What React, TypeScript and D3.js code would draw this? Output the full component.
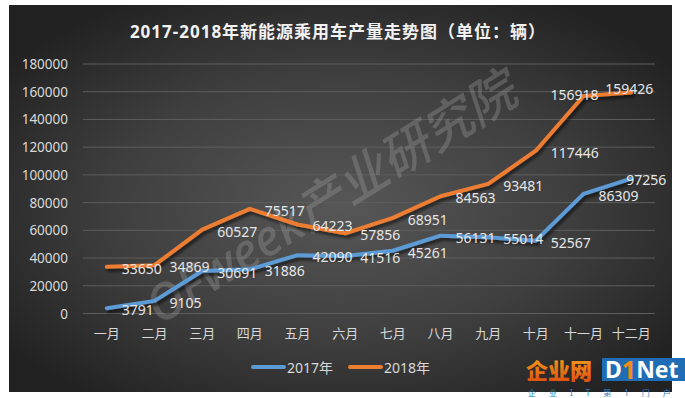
import * as d3 from "d3";

const W = 685;
const H = 398;

// data
const months = ["一月", "二月", "三月", "四月", "五月", "六月", "七月", "八月", "九月", "十月", "十一月", "十二月"];
const sales2017 = [3791, 9105, 30691, 31886, 42090, 41516, 45261, 56131, 55014, 52567, 86309, 97256];
const sales2018 = [33650, 34869, 60527, 75517, 64223, 57856, 68951, 84563, 93481, 117446, 156918, 159426];
const yTicks = [0, 20000, 40000, 60000, 80000, 100000, 120000, 140000, 160000, 180000];

const series = [
    { name: "2017年", values: sales2017, color: "#5B9BD5" },
    { name: "2018年", values: sales2018, color: "#ED7D31" },
];

// labels that were dragged away from the default "right" spot
const labelNudge = {
    "2017年-11": { anchor: "start", dx: -5, dy: 1 },
    "2018年-10": { anchor: "middle", dx: -9, dy: -1 },
    "2018年-11": { anchor: "middle", dx: -2, dy: -4 },
};

const fontFamily = "'Noto Sans', 'Noto Sans CJK SC', sans-serif";
const textColor = "#d9d9d9";

const App = () => {
    const xScale = d3.scaleBand().domain(months).range([83, 655]);
    const yScale = d3.scaleLinear().domain([0, 180000]).range([313.5, 64]);
    const px = (m) => xScale(m) + xScale.bandwidth() / 2;

    const line = d3
        .line()
        .x((d, i) => px(months[i]))
        .y((d) => yScale(d))
        .curve(d3.curveLinear);

    return (
        <svg
            width={W}
            height={H}
            viewBox={`0 0 ${W} ${H}`}
            style={{ position: "fixed", left: 0, top: 0, background: "#fff" }}
        >
            <defs>
                <radialGradient id="bg" cx="50%" cy="52%" r="62%">
                    <stop offset="0%" stopColor="#575757" />
                    <stop offset="55%" stopColor="#3f3f3f" />
                    <stop offset="100%" stopColor="#222222" />
                </radialGradient>
                <filter id="shadow" x="-10%" y="-10%" width="120%" height="130%">
                    <feDropShadow dx="2" dy="3" stdDeviation="1.8" floodColor="#000" floodOpacity="0.55" />
                </filter>
                <linearGradient id="logoOrange" x1="0" y1="0" x2="0" y2="1">
                    <stop offset="0%" stopColor="#f7a21b" />
                    <stop offset="100%" stopColor="#d9480f" />
                </linearGradient>
            </defs>

            <rect x={9} y={5} width={663} height={387} fill="url(#bg)" />

            <text
                x={338}
                y={31}
                textAnchor="middle"
                dominantBaseline="central"
                fill="#f2f2f2"
                fontFamily={fontFamily}
                fontWeight="bold"
                fontSize={17}
                letterSpacing={1}
            >
                2017-2018年新能源乘用车产量走势图（单位：辆）
            </text>

            {/* grid + y labels */}
            <g className="y-axis">
                {yTicks.map((t) => (
                    <g key={t}>
                        <line x1={83} x2={655} y1={yScale(t)} y2={yScale(t)} stroke="#5e5e5e" strokeWidth={1} />
                        <text
                            x={68}
                            y={yScale(t)}
                            textAnchor="end"
                            dominantBaseline="central"
                            fill={textColor}
                            fontFamily={fontFamily}
                            fontSize={13.5}
                        >
                            {t}
                        </text>
                    </g>
                ))}
            </g>

            {/* x labels */}
            <g className="x-axis">
                {months.map((m) => (
                    <text
                        key={m}
                        x={px(m)}
                        y={333}
                        textAnchor="middle"
                        dominantBaseline="central"
                        fill={textColor}
                        fontFamily={fontFamily}
                        fontSize={13}
                    >
                        {m}
                    </text>
                ))}
            </g>

            {/* watermark */}
            <text
                transform="translate(330,197) rotate(-32)"
                textAnchor="middle"
                dominantBaseline="central"
                fill="#a0a0a0"
                fillOpacity={0.33}
                fontFamily={fontFamily}
                fontStyle="italic"
                fontWeight="500"
                fontSize={50}
            >
                OFweek产业研究院
            </text>

            {/* lines */}
            <g className="lines">
                {series.map((s) => (
                    <path
                        key={s.name}
                        d={line(s.values)}
                        fill="none"
                        stroke={s.color}
                        strokeWidth={4}
                        strokeLinejoin="round"
                        strokeLinecap="round"
                        filter="url(#shadow)"
                    />
                ))}
            </g>

            {/* data labels */}
            <g className="labels">
                {series.map((s) =>
                    s.values.map((v, i) => {
                        const n = labelNudge[`${s.name}-${i}`];
                        return (
                            <text
                                key={`${s.name}-${i}`}
                                x={px(months[i]) + (n ? n.dx : 15)}
                                y={yScale(v) + (n ? n.dy : 1.5)}
                                textAnchor={n ? n.anchor : "start"}
                                dominantBaseline="central"
                                fill="#e6e6e6"
                                fontFamily={fontFamily}
                                fontSize={14}
                            >
                                {v}
                            </text>
                        );
                    })
                )}
            </g>

            {/* legend */}
            <g className="legend">
                {series.map((s, i) => {
                    const lx = 253 + i * 97;
                    return (
                        <g key={s.name}>
                            <line x1={lx} x2={lx + 31} y1={367} y2={367} stroke={s.color} strokeWidth={4} strokeLinecap="round" />
                            <text
                                x={lx + 34}
                                y={367}
                                dominantBaseline="central"
                                fill={textColor}
                                fontFamily={fontFamily}
                                fontSize={14}
                            >
                                {s.name}
                            </text>
                        </g>
                    );
                })}
            </g>

            {/* site logo */}
            <g className="logo" fontFamily={fontFamily}>
                <text x={526} y={370} dominantBaseline="central" fill="url(#logoOrange)" fontWeight="900" fontSize={22} letterSpacing={0}>
                    企业网
                </text>
                <rect x={602} y={358} width={83} height={23} fill="#1f6db5" />
                <text x={605} y={369} dominantBaseline="central" fill="#fff" fontWeight="bold" fontSize={23}>
                    D
                    <tspan fill="#f28a1c" fontSize={25}>1</tspan>
                    Net
                </text>
                <text x={528} y={392.5} dominantBaseline="central" fill="#2a7fc8" fontSize={8} letterSpacing={13}>
                    企业IT第1门户
                </text>
            </g>
        </svg>
    );
};

export default App;
